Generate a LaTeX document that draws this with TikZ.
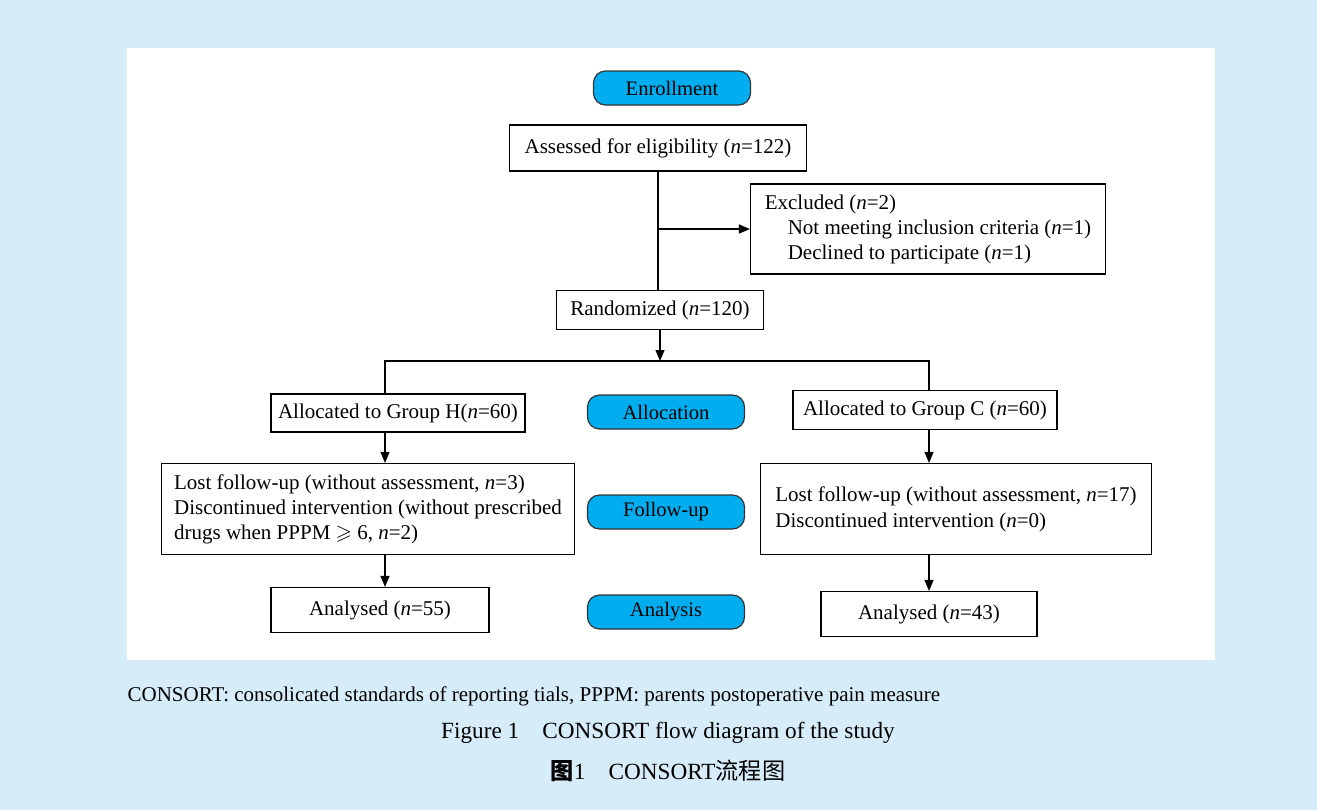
\documentclass[tikz,border=0pt]{standalone}
\usepackage{amssymb}
\usepackage{fontspec}
\setmainfont{Liberation Serif}
\newfontfamily\cjk{Noto Sans CJK SC}
\usetikzlibrary{arrows.meta,positioning,backgrounds}
\definecolor{bgblue}{RGB}{214,236,249}
\definecolor{tabblue}{RGB}{0,174,239}
\tikzset{
  sqbox/.style  = { draw, line width=0.6pt, inner sep=0pt, align=left,
    font=\fontsize{10.5}{12.5}\selectfont },
  phase/.style  = { draw=black!80, line width=0.6pt, fill=tabblue, rounded corners=6pt,
    minimum width=78.5pt, minimum height=17pt, inner sep=0pt, font=\fontsize{10.3}{11}\selectfont },
  arr/.style    = { -{Triangle[length=5.5pt,width=4.5pt]} },
  capt/.style   = { inner sep=0pt, font=\fontsize{11.6}{13}\selectfont }
}

\begin{document}
\begin{tikzpicture}[x=0.5pt, y=-0.5pt, line width=0.6pt]
      \fill[bgblue] (0,0) rectangle (1317,810);
      \fill[white] (127,48) rectangle (1215,660);
      % phases
      \node[phase] (enr) at (672,88) {Enrollment};
      \node[phase] (alo) at (666,412) {Allocation};
      \node[phase] (fol) at (666,512) {Follow-up};
      \node[phase] (ana) at (666,612) {Analysis};
      % enrollment
      \node[sqbox, minimum width=148.5pt, minimum height=23pt] (as) at (658,148) {Assessed for eligibility (\textit{n}=122)};
      \node[sqbox, minimum width=177.5pt, minimum height=45pt] (ex) at (928,229)
        {Excluded (\textit{n}=2)\\
         \hspace*{11.5pt}Not meeting inclusion criteria (\textit{n}=1)\\
         \hspace*{11.5pt}Declined to participate (\textit{n}=1)};
      \node[sqbox, minimum width=103.5pt, minimum height=19.5pt] (ra) at (660,310) {Randomized (\textit{n}=120)};
      % groups
      \node[sqbox, minimum width=127pt, minimum height=19pt] (ah) at (398,413) {Allocated to Group H(\textit{n}=60)};
      \node[sqbox, minimum width=132pt, minimum height=19.5pt] (ac) at (925,410) {Allocated to Group C (\textit{n}=60)};
      \node[sqbox, minimum width=206.5pt, minimum height=45.5pt] (lh) at (368,509)
        {Lost follow-up (without assessment, \textit{n}=3)\\
         Discontinued intervention (without prescribed\\
         drugs when PPPM $\geqslant$ 6, \textit{n}=2)};
      \node[sqbox, minimum width=195.5pt, minimum height=45.5pt] (lc) at (956,509)
        {Lost follow-up (without assessment, \textit{n}=17)\\[0.5pt]
         Discontinued intervention (\textit{n}=0)};
      \node[sqbox, minimum width=109pt, minimum height=22.5pt] (nh) at (380,610) {Analysed (\textit{n}=55)};
      \node[sqbox, minimum width=108pt, minimum height=22.5pt] (nc) at (929,614) {Analysed (\textit{n}=43)};
      % connectors
      \coordinate (colL) at (385,361);
      \coordinate (colR) at (929,361);
      \draw (as.south) -- (as.south |- ra.north);
      \draw[arr] (as.south |- ex.west) -- (ex.west);
      \draw[arr] (ra.south) -- (ra.south |- colL);
      \draw (ah.north -| colL) -- (colL) -- (colR) -- (ac.north -| colR);
      \draw[arr] (ah.south -| colL) -- (lh.north -| colL);
      \draw[arr] (ac.south -| colR) -- (lc.north -| colR);
      \draw[arr] (lh.south -| colL) -- (nh.north -| colL);
      \draw[arr] (lc.south -| colR) -- (nc.north -| colR);
      % caption
      \node[capt, anchor=west, font=\fontsize{10.5}{12}\selectfont] (note) at (127,696)
        {CONSORT: consolicated standards of reporting tials, PPPM: parents postoperative pain measure};
      \node[capt] (fig) at (668,733) {Figure 1\quad CONSORT flow diagram of the study};
      \node[capt] (tu) at (668,771) {{\cjk\bfseries 图}1\quad CONSORT{\cjk 流程图}};
\end{tikzpicture}
\end{document}
